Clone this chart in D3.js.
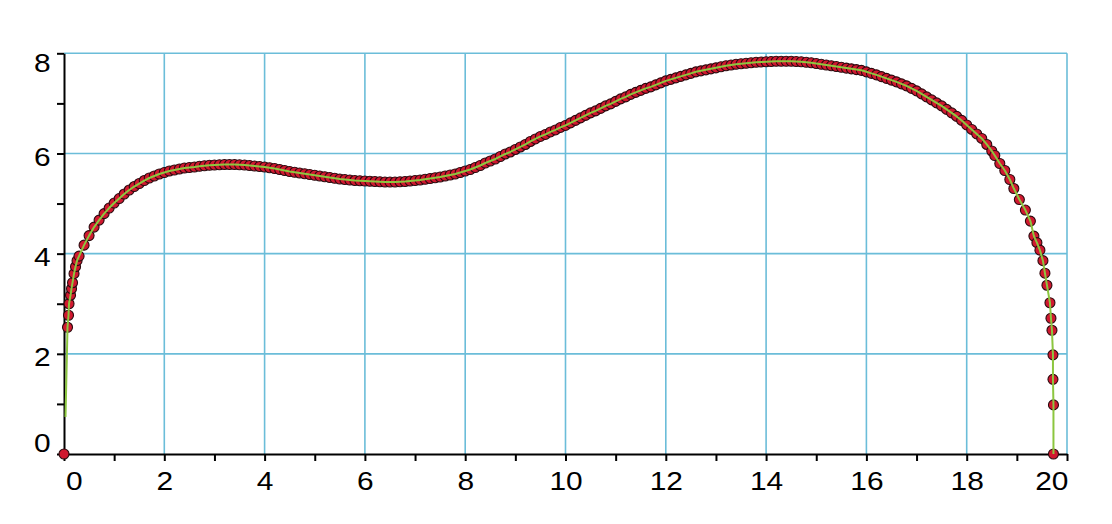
<!DOCTYPE html>
<html>
<head>
<meta charset="utf-8">
<script src="https://cdn.jsdelivr.net/npm/d3@7"></script>
<style>
  html, body { margin: 0; padding: 0; background: #ffffff; }
  svg { display: block; }
</style>
</head>
<body>
<svg id="chart" width="1112" height="524"></svg>
<script>
// ---- data ----
const xTicks = [0,1,2,3,4,5,6,7,8,9,10,11,12,13,14,15,16,17,18,19,20];
const xLabels = ["0","","2","","4","","6","","8","","10","","12","","14","","16","","18","","20"];
const yTicks = [0,1,2,3,4,5,6,7,8];
const yLabels = ["0","","2","","4","","6","","8"];
const gridX = [2,4,6,8,10,12,14,16,18,20];
const gridY = [2,4,6,8];

const dotX = [
  0, 0.07, 0.09, 0.10, 0.13, 0.15, 0.17, 0.20, 0.23, 0.26,
  0.3, 0.4, 0.5, 0.6, 0.7, 0.8, 0.9, 1.0, 1.1, 1.2, 1.3, 1.4, 1.5, 1.6, 1.7, 1.8, 1.9,
  2.0, 2.1, 2.2, 2.3, 2.4, 2.5, 2.6, 2.7, 2.8, 2.9,
  3.0, 3.1, 3.2, 3.3, 3.4, 3.5, 3.6, 3.7, 3.8, 3.9,
  4.0, 4.1, 4.2, 4.3, 4.4, 4.5, 4.6, 4.7, 4.8, 4.9,
  5.0, 5.1, 5.2, 5.3, 5.4, 5.5, 5.6, 5.7, 5.8, 5.9,
  6.0, 6.1, 6.2, 6.3, 6.4, 6.5, 6.6, 6.7, 6.8, 6.9,
  7.0, 7.1, 7.2, 7.3, 7.4, 7.5, 7.6, 7.7, 7.8, 7.9,
  8.0, 8.1, 8.2, 8.3, 8.4, 8.5, 8.6, 8.7, 8.8, 8.9,
  9.0, 9.1, 9.2, 9.3, 9.4, 9.5, 9.6, 9.7, 9.8, 9.9,
  10.0, 10.1, 10.2, 10.3, 10.4, 10.5, 10.6, 10.7, 10.8, 10.9,
  11.0, 11.1, 11.2, 11.3, 11.4, 11.5, 11.6, 11.7, 11.8, 11.9,
  12.0, 12.1, 12.2, 12.3, 12.4, 12.5, 12.6, 12.7, 12.8, 12.9,
  13.0, 13.1, 13.2, 13.3, 13.4, 13.5, 13.6, 13.7, 13.8, 13.9,
  14.0, 14.1, 14.2, 14.3, 14.4, 14.5, 14.6, 14.7, 14.8, 14.9,
  15.0, 15.1, 15.2, 15.3, 15.4, 15.5, 15.6, 15.7, 15.8, 15.9,
  16.0, 16.1, 16.2, 16.3, 16.4, 16.5, 16.6, 16.7, 16.8, 16.9,
  17.0, 17.1, 17.2, 17.3, 17.4, 17.5, 17.6, 17.7, 17.8, 17.9,
  18.0, 18.1, 18.2, 18.3, 18.4, 18.5,
  18.56, 18.66, 18.76, 18.86, 18.94, 19.05, 19.17, 19.27, 19.34, 19.40,
  19.46, 19.52, 19.56, 19.60, 19.66, 19.68, 19.70, 19.72, 19.72, 19.73, 19.73
];
const dotY = [
  0, 2.53, 2.77, 3.00, 3.17, 3.30, 3.42, 3.60, 3.74, 3.86,
  3.95, 4.17, 4.36, 4.53, 4.67, 4.80, 4.91, 5.01, 5.10, 5.19, 5.27, 5.34, 5.40, 5.46, 5.51, 5.55, 5.59,
  5.62, 5.65, 5.67, 5.69, 5.71, 5.72, 5.73, 5.745, 5.755, 5.765,
  5.77, 5.775, 5.78, 5.78, 5.78, 5.775, 5.77, 5.76, 5.75, 5.74,
  5.73, 5.715, 5.70, 5.68, 5.66, 5.64, 5.625, 5.61, 5.595, 5.58,
  5.565, 5.55, 5.535, 5.52, 5.505, 5.49, 5.48, 5.47, 5.46, 5.455,
  5.45, 5.445, 5.44, 5.435, 5.43, 5.43, 5.43, 5.435, 5.44, 5.45,
  5.46, 5.47, 5.485, 5.50, 5.515, 5.53, 5.55, 5.57, 5.59, 5.62,
  5.65, 5.68, 5.72, 5.76, 5.81, 5.85, 5.89, 5.94, 5.99, 6.03,
  6.08, 6.13, 6.18, 6.24, 6.29, 6.34, 6.38, 6.43, 6.47, 6.52,
  6.56, 6.61, 6.66, 6.71, 6.76, 6.81, 6.85, 6.90, 6.95, 6.99,
  7.04, 7.09, 7.13, 7.18, 7.22, 7.26, 7.30, 7.33, 7.37, 7.41,
  7.45, 7.48, 7.51, 7.54, 7.57, 7.60, 7.63, 7.65, 7.67, 7.69,
  7.71, 7.73, 7.75, 7.765, 7.78, 7.79, 7.80, 7.81, 7.82, 7.825,
  7.83, 7.835, 7.84, 7.84, 7.84, 7.84, 7.835, 7.83, 7.82, 7.81,
  7.795, 7.78, 7.765, 7.75, 7.735, 7.72, 7.705, 7.69, 7.675, 7.66,
  7.63, 7.60, 7.57, 7.535, 7.50, 7.465, 7.43, 7.39, 7.35, 7.30,
  7.25, 7.19, 7.13, 7.07, 7.01, 6.95, 6.88, 6.81, 6.74, 6.66,
  6.57, 6.48, 6.39, 6.30, 6.18, 6.05,
  5.96, 5.80, 5.66, 5.48, 5.30, 5.08, 4.87, 4.65, 4.35, 4.22,
  4.07, 3.86, 3.61, 3.37, 3.02, 2.71, 2.47, 1.98, 1.49, 0.98, 0
];
// the green fitted line starts a little above the first dot
const lineStartX = [0.03];
const lineStartY = [0.74];

// ---- drawing ----
const svg = d3.select("#chart");
const x = d3.scaleLinear().domain([0, 20]).range([64, 1067]);
const y = d3.scaleLinear().domain([0, 8]).range([454, 53.3]);

const gridColor = "#6bbdd9";
const font = "'Liberation Sans', Arial, Helvetica, sans-serif";

svg.append("rect").attr("width", 1112).attr("height", 524).attr("fill", "#ffffff");

// grid
svg.append("g").selectAll("line").data(gridX).join("line")
  .attr("x1", d => x(d)).attr("x2", d => x(d))
  .attr("y1", y(0)).attr("y2", y(8))
  .attr("stroke", gridColor).attr("stroke-width", 1.6);
svg.append("g").selectAll("line").data(gridY).join("line")
  .attr("x1", x(0)).attr("x2", x(20))
  .attr("y1", d => y(d)).attr("y2", d => y(d))
  .attr("stroke", gridColor).attr("stroke-width", 1.6);

// axes
const xAxis = d3.axisBottom(x).tickValues(xTicks)
  .tickFormat((d, i) => xLabels[i]).tickSize(7).tickSizeOuter(0);
const gx = svg.append("g").attr("transform", `translate(0,${y(0)})`).call(xAxis);
gx.select(".domain").attr("stroke", "#000").attr("stroke-width", 2);
gx.selectAll(".tick line").attr("stroke", "#000").attr("stroke-width", 2);
gx.selectAll(".tick text")
  .attr("font-family", font).attr("font-size", 26).attr("fill", "#000")
  .attr("x", 0).attr("y", 0).attr("dy", null)
  .attr("text-anchor", (d, i) => i === 0 ? "start" : (i === xTicks.length - 1 ? "end" : "middle"))
  .attr("transform", (d, i) => {
    const dx = i === 0 ? 1.5 : (i === xTicks.length - 1 ? 1 : 0);
    return `translate(${dx},36) scale(1.15,1)`;
  });

const yAxis = d3.axisLeft(y).tickValues(yTicks)
  .tickFormat((d, i) => yLabels[i]).tickSize(7).tickSizeOuter(0);
const gy = svg.append("g").attr("transform", `translate(${x(0)},0)`).call(yAxis);
gy.select(".domain").attr("stroke", "#000").attr("stroke-width", 2);
gy.selectAll(".tick line").attr("stroke", "#000").attr("stroke-width", 2);
gy.selectAll(".tick text")
  .attr("font-family", font).attr("font-size", 26).attr("fill", "#000")
  .attr("x", 0).attr("y", 0).attr("dy", null)
  .attr("text-anchor", "end")
  .attr("transform", (d, i) => {
    const dy = i === 0 ? -2.5 : (i === yTicks.length - 1 ? 18.4 : 11.7);
    return `translate(-13.5,${dy}) scale(1.15,1)`;
  });

// dots
const dots = dotX.map((d, i) => ({ x: d, y: dotY[i] }));
svg.append("g").selectAll("circle").data(dots).join("circle")
  .attr("cx", d => x(d.x)).attr("cy", d => y(d.y)).attr("r", 5)
  .attr("fill", "#d0182f").attr("stroke", "#2a0a0e").attr("stroke-width", 1.1);

// green line
const linePts = lineStartX.map((d, i) => ({ x: d, y: lineStartY[i] })).concat(dots.slice(1));
svg.append("path").datum(linePts)
  .attr("d", d3.line().x(d => x(d.x)).y(d => y(d.y)).curve(d3.curveLinear))
  .attr("fill", "none").attr("stroke", "#8cc63f").attr("stroke-width", 2)
  .attr("stroke-linejoin", "round");
</script>
</body>
</html>
